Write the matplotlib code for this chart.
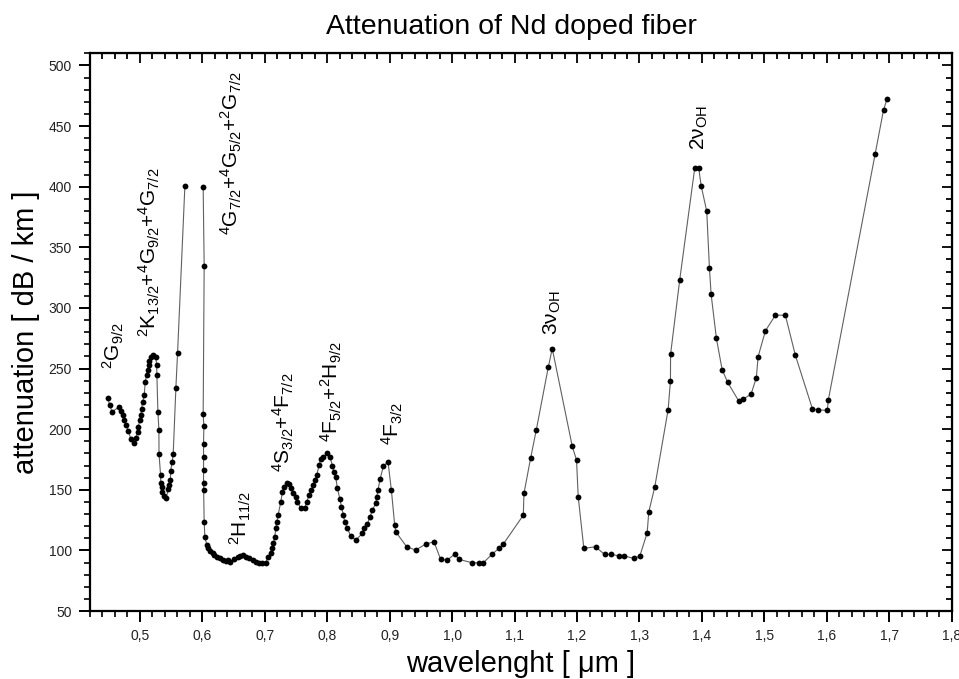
import numpy as np
import matplotlib
matplotlib.use("Agg")
import matplotlib.pyplot as plt
from matplotlib.ticker import MultipleLocator, FuncFormatter

plt.rcParams['font.family'] = ['Liberation Sans', 'DejaVu Sans']
plt.rcParams['mathtext.fontset'] = 'custom'
plt.rcParams['mathtext.rm'] = 'Liberation Sans'
plt.rcParams['mathtext.it'] = 'Liberation Sans:italic'
plt.rcParams['mathtext.default'] = 'regular'

# primeiro trecho (0.44 - 0.57 um), corta em 400 dB/km
wl_a = [0.4483, 0.452, 0.4552, 0.4669, 0.4696, 0.4723, 0.4749, 0.4776, 0.4813,
        0.4856, 0.4909, 0.4936, 0.4963, 0.4973, 0.5, 0.5016, 0.5027, 0.5043,
        0.5069, 0.5085, 0.5107, 0.5123, 0.5139, 0.5149, 0.5176, 0.5213, 0.5256,
        0.5267, 0.5272, 0.5288, 0.5304, 0.5306, 0.5331, 0.5333, 0.5347, 0.5357,
        0.5384, 0.5421, 0.5453, 0.5464, 0.5489, 0.5491, 0.5517, 0.5533, 0.5576,
        0.5603, 0.572]
att_a = [225.3, 219.8, 214.3, 218.4, 215.1, 211.5, 207.4, 203.3, 198.6,
         191.8, 188.2, 192.3, 197.8, 201.9, 207.4, 211.5, 217.0, 222.5,
         228.0, 239.0, 244.5, 248.6, 252.8, 256.3, 259.6, 261.0, 259.6,
         252.8, 244.5, 214.3, 199.7, 179.4, 162.1, 155.8, 152.0, 148.3,
         144.8, 143.4, 150.3, 153.8, 158.0, 165.6, 173.1, 179.4, 234.0,
         262.9, 400.3]

# segundo trecho (0.60 - 1.70 um)
wl_b = [0.6013, 0.6029, 0.6013, 0.6024, 0.6019, 0.6019, 0.6019, 0.6019, 0.6021,
        0.6029, 0.604, 0.6072, 0.6093, 0.6125, 0.6163, 0.619, 0.6235, 0.6285,
        0.6323, 0.6376, 0.6413, 0.6445, 0.6509, 0.6563, 0.6605, 0.6643, 0.6696,
        0.6749, 0.6803, 0.6856, 0.6909, 0.6963, 0.7016, 0.7053, 0.7096, 0.7123,
        0.7139, 0.716, 0.7176, 0.7192, 0.7213, 0.7256, 0.7283, 0.7309, 0.7352,
        0.7389, 0.7416, 0.7459, 0.7496, 0.7523, 0.7576, 0.764, 0.7672, 0.7709,
        0.7747, 0.7779, 0.78, 0.7832, 0.7869, 0.7896, 0.7939, 0.8003, 0.8045,
        0.8083, 0.8109, 0.8136, 0.8163, 0.8205, 0.8227, 0.8259, 0.828, 0.8323,
        0.8376, 0.8456, 0.8563, 0.8589, 0.8643, 0.8685, 0.8723, 0.8776, 0.8792,
        0.8813, 0.8845, 0.8899, 0.8973, 0.9027, 0.908, 0.9096, 0.9272, 0.9416,
        0.9576, 0.9709, 0.9816, 0.9923, 1.004, 1.0109, 1.0323, 1.0429, 1.0499,
        1.0643, 1.0749, 1.0819, 1.114, 1.115, 1.1256, 1.1347, 1.1539, 1.1603,
        1.1923, 1.1992, 1.2019, 1.2109, 1.2296, 1.244, 1.2536, 1.2669, 1.2749,
        1.2909, 1.3005, 1.3123, 1.3149, 1.3245, 1.3459, 1.3496, 1.3498, 1.3645,
        1.3885, 1.3949, 1.3987, 1.4077, 1.412, 1.4147, 1.4232, 1.4323, 1.4413,
        1.4589, 1.4659, 1.4787, 1.4872, 1.4899, 1.5016, 1.5176, 1.5336, 1.5496,
        1.5768, 1.5864, 1.6008, 1.6024, 1.6776, 1.6909, 1.6963]
att_b = [400.0, 334.3, 212.4, 202.5, 187.6, 176.7, 166.2, 155.2, 149.7,
         123.6, 111.2, 104.4, 101.7, 99.5, 97.5, 96.2, 94.5, 93.4,
         92.0, 91.5, 92.0, 90.6, 92.6, 94.3, 95.3, 96.2, 94.8,
         93.4, 92.0, 90.6, 89.8, 89.3, 89.8, 94.8, 97.5, 101.7,
         105.8, 111.2, 118.2, 123.6, 129.1, 140.1, 148.3, 152.4, 155.8,
         154.7, 151.1, 147.0, 144.2, 140.1, 134.6, 134.6, 140.1, 145.6,
         149.7, 153.8, 158.0, 162.1, 170.3, 175.0, 177.2, 180.0, 177.2,
         169.5, 164.8, 160.2, 151.1, 142.0, 136.0, 129.1, 123.6, 118.2,
         111.8, 108.5, 114.0, 118.2, 121.7, 127.7, 133.2, 138.8, 144.2,
         149.7, 158.5, 169.5, 173.1, 149.7, 120.9, 115.4, 103.0, 100.3,
         105.2, 107.1, 92.6, 92.0, 97.0, 92.6, 89.8, 89.8, 89.8,
         97.0, 101.7, 105.2, 129.1, 147.0, 175.9, 199.2, 250.9, 266.5,
         186.0, 174.5, 144.2, 101.7, 103.0, 96.7, 96.7, 95.6, 95.6,
         93.4, 95.3, 114.5, 131.8, 152.4, 216.2, 239.8, 261.8, 323.4,
         415.4, 415.4, 400.9, 379.7, 333.0, 311.3, 274.8, 249.2, 238.5,
         223.3, 224.7, 228.9, 242.6, 259.6, 281.0, 294.0, 294.0, 261.0,
         217.0, 215.7, 215.7, 224.0, 427.2, 463.5, 472.0]

# rotulos das transicoes
trans_txt = [r'${}^{2}$G$_{9/2}$',
             r'${}^{2}$K$_{13/2}$+${}^{4}$G$_{9/2}$+${}^{4}$G$_{7/2}$',
             r'${}^{4}$G$_{7/2}$+${}^{4}$G$_{5/2}$+${}^{2}$G$_{7/2}$',
             r'${}^{2}$H$_{11/2}$',
             r'${}^{4}$S$_{3/2}$+${}^{4}$F$_{7/2}$',
             r'${}^{4}$F$_{5/2}$+${}^{2}$H$_{9/2}$',
             r'${}^{4}$F$_{3/2}$',
             r'3ν$_{OH}$',
             r'2ν$_{OH}$']
trans_wl = [0.4568, 0.5144, 0.6472, 0.6616, 0.7304, 0.8072, 0.9048, 1.1608, 1.396]
trans_att = [269, 346, 428, 126.6, 206, 231, 205, 296.4, 449]

fig = plt.figure(figsize=(9.59, 6.79), dpi=100)
ax = fig.add_axes([0.0938, 0.1001, 0.8986, 0.8214])

for wl, att in [(wl_a, att_a), (wl_b, att_b)]:
    ax.plot(wl, att, color='#606060', lw=0.8, marker='o', ms=4.2,
            mfc='black', mec='black', mew=0)

for t, x, y in zip(trans_txt, trans_wl, trans_att):
    ax.text(x, y, t, rotation=90, ha='center', va='center', fontsize=15)

ax.set_xlim(0.42, 1.8)
ax.set_ylim(50, 510)
ax.set_xticks(np.arange(0.5, 1.81, 0.1))
ax.set_yticks(np.arange(50, 501, 50))
ax.xaxis.set_minor_locator(MultipleLocator(0.02))
ax.yaxis.set_minor_locator(MultipleLocator(10))
ax.xaxis.set_major_formatter(FuncFormatter(lambda v, p: f'{v:.1f}'.replace('.', ',')))
ax.tick_params(which='major', direction='out', length=8, width=1.4, labelsize=10,
               pad=5, labelcolor='#222222')
ax.tick_params(which='minor', direction='out', length=4, width=1.2)
for s in ax.spines.values():
    s.set_linewidth(1.6)

# eixos de cima e da direita com marcas para dentro
secx = ax.secondary_xaxis('top')
secx.set_xticks(np.arange(0.5, 1.81, 0.1))
secx.xaxis.set_minor_locator(MultipleLocator(0.02))
secx.tick_params(which='both', direction='in', labeltop=False, width=1.3)
secx.tick_params(which='major', length=7)
secx.tick_params(which='minor', length=4)
secy = ax.secondary_yaxis('right')
secy.set_yticks(np.arange(50, 501, 50))
secy.yaxis.set_minor_locator(MultipleLocator(10))
secy.tick_params(which='both', direction='in', labelright=False, width=1.3)
secy.tick_params(which='major', length=7)
secy.tick_params(which='minor', length=4)

ax.set_xlabel('wavelenght [ μm ]', fontsize=21, labelpad=5)
ax.set_ylabel('attenuation [ dB / km ]', fontsize=21, labelpad=6)
fig.text(0.533, 0.96, 'Attenuation of Nd doped fiber', fontsize=20.5,
         ha='center', va='center')

plt.savefig('out.png', dpi=100)
